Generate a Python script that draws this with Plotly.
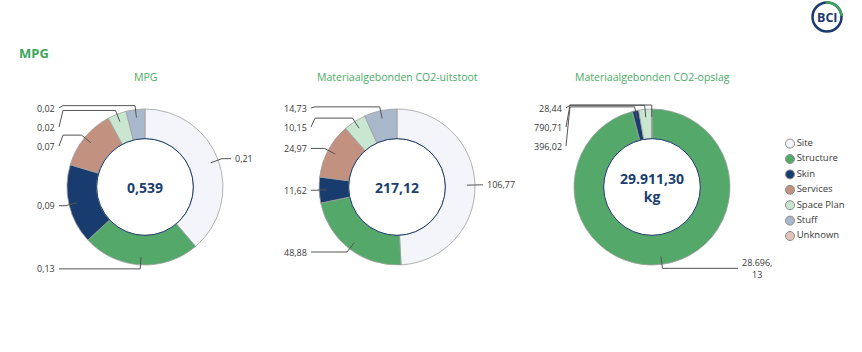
import math
import plotly.graph_objects as go

W, H = 862, 352

# ---------------- data ----------------
categories = ["Site", "Structure", "Skin", "Services", "Space Plan", "Stuff", "Unknown"]
slice_colors = ["#f3f5fa", "#53a86a", "#173c6d", "#c3917f", "#c9e6d0", "#a9b8ca", "#e2c4ba"]

mpg_values = [0.209, 0.131, 0.089, 0.068, 0.021, 0.021, 0.0]
co2_uitstoot_values = [106.77, 48.88, 11.62, 24.97, 10.15, 14.73, 0.0]
co2_opslag_values = [0.0, 28696.13, 396.02, 0.0, 790.71, 28.44, 0.0]

chart_titles = ["MPG", "Materiaalgebonden CO2-uitstoot", "Materiaalgebonden CO2-opslag"]
total_decimals = [3, 2, 2]
total_units = ["", "", "kg"]
page_title = "MPG"

# ---------------- layout constants ----------------
centers = [(145, 187), (397, 187), (652, 187)]
R = 78
HOLE = 0.62
GREEN = "#4cab66"
NAVY = "#1c3f70"
LINE_C = "#555555"
LABEL_C = "#3a3a3a"
FONT = "Open Sans"


def nl(v, d):
    s = f"{v:,.{d}f}"
    return s.replace(",", "X").replace(".", ",").replace("X", ".")


def PX(x):
    return x / W


def PY(y):
    return 1 - y / H


fig = go.Figure()
shapes = []
annotations = []

all_values = [mpg_values, co2_uitstoot_values, co2_opslag_values]

for k, vals in enumerate(all_values):
    cx, cy = centers[k]
    labs = [c for c, v in zip(categories, vals) if v > 0]
    vv = [v for v in vals if v > 0]
    cols = [col for col, v in zip(slice_colors, vals) if v > 0]
    fig.add_trace(go.Pie(
        labels=labs, values=vv, sort=False, direction="clockwise", rotation=0,
        hole=HOLE, textinfo="none", hoverinfo="skip", showlegend=False,
        marker=dict(colors=cols, line=dict(color="#a0a0a0", width=0.8)),
        domain=dict(x=[PX(cx - R), PX(cx + R)], y=[PY(cy + R), PY(cy - R)]),
    ))
    rin = R * HOLE
    shapes.append(dict(type="circle", xref="paper", yref="paper",
                       x0=PX(cx - rin), x1=PX(cx + rin), y0=PY(cy + rin), y1=PY(cy - rin),
                       line=dict(color=NAVY, width=1)))
    # center total
    total = sum(vals)
    txt = nl(total, total_decimals[k])
    if total_units[k]:
        txt += "<br>" + total_units[k]
    annotations.append(dict(x=PX(cx), y=PY(cy), xref="paper", yref="paper", text="<b>" + txt + "</b>",
                            showarrow=False, font=dict(family=FONT, size=14, color=NAVY),
                            xanchor="center", yanchor="middle"))
    # title
    annotations.append(dict(x=PX(cx), y=PY(77), xref="paper", yref="paper", text=chart_titles[k],
                            showarrow=False, font=dict(family=FONT, size=10.5, color=GREEN),
                            xanchor="center", yanchor="middle"))
    # labels with leader lines
    tot = sum(vv)
    acc = 0.0
    items = []
    for v in vv:
        th = math.radians((acc + v / 2) / tot * 360)
        acc += v
        s, c = math.sin(th), math.cos(th)
        p0 = (cx + (R - 8) * s, cy - (R - 8) * c)
        p1 = (cx + (R + 4) * s, cy - (R + 4) * c)
        side = "right" if s >= 0 else "left"
        items.append(dict(v=v, p0=p0, p1=p1, side=side, ny=p1[1]))
    for side in ("left", "right"):
        grp = sorted([it for it in items if it["side"] == side], key=lambda it: it["ny"])
        prev = None
        for it in grp:
            y = max(it["ny"], cy - R - 1)
            if prev is not None:
                y = max(y, prev + 19)
            it["ly"] = y
            prev = y
    for it in items:
        if it["side"] == "left":
            xe = cx - R - 8
            x2 = min(it["p1"][0], xe + 4)
            xt, anchor = xe - 2, "right"
        else:
            xe = cx + R + 8
            x2 = max(it["p1"][0], xe - 4)
            xt, anchor = xe + 2, "left"
        pts = [it["p0"], it["p1"], (x2, it["p1"][1]), (xe, it["ly"])]
        path = "M " + " L ".join(f"{PX(a):.5f},{PY(b):.5f}" for a, b in pts)
        shapes.append(dict(type="path", xref="paper", yref="paper", path=path,
                           line=dict(color=LINE_C, width=1)))
        t = nl(it["v"], 2)
        if len(t) > 7:
            i = t.index(",")
            t = t[:i + 1] + "<br>" + t[i + 1:]
        annotations.append(dict(x=PX(xt), y=PY(it["ly"]), xref="paper", yref="paper", text=t,
                                showarrow=False, font=dict(family=FONT, size=9, color=LABEL_C),
                                xanchor=anchor, yanchor="middle", align="center"))

# legend (drawn as a scatter of category markers)
leg_top, leg_step = 143.6, 15.4
n = len(categories)
fig.add_trace(go.Scatter(
    x=[0.5] * n, y=categories, mode="markers+text", text=categories,
    textposition="middle right", cliponaxis=False, hoverinfo="skip", showlegend=False,
    marker=dict(size=9, color=slice_colors, line=dict(color="#8c8c8c", width=1)),
    textfont=dict(family=FONT, size=9.5, color=LABEL_C),
))

# page title
annotations.append(dict(x=PX(17), y=PY(53), xref="paper", yref="paper", text="<b>" + page_title + "</b>",
                        showarrow=False, font=dict(family=FONT, size=13, color="#3aa55d"),
                        xanchor="left", yanchor="middle"))

# logo
lcx, lcy, lr = 827, 17, 14.5
shapes.append(dict(type="circle", xref="paper", yref="paper",
                   x0=PX(lcx - lr), x1=PX(lcx + lr), y0=PY(lcy + lr), y1=PY(lcy - lr),
                   line=dict(color="#1b3a6b", width=2.5)))
arc = []
for i in range(0, 31):
    a = math.radians(-5 + i * 3)
    arc.append((lcx + lr * math.sin(a), lcy - lr * math.cos(a)))
shapes.append(dict(type="path", xref="paper", yref="paper",
                   path="M " + " L ".join(f"{PX(a):.5f},{PY(b):.5f}" for a, b in arc),
                   line=dict(color="#3aa55d", width=2.5)))
annotations.append(dict(x=PX(lcx), y=PY(lcy + 0.5), xref="paper", yref="paper", text="<b>BCI</b>",
                        showarrow=False, font=dict(family=FONT, size=12.5, color="#1b3a6b"),
                        xanchor="center", yanchor="middle"))

fig.update_layout(
    width=W, height=H, margin=dict(l=0, r=0, t=0, b=0),
    paper_bgcolor="white", plot_bgcolor="white", showlegend=False,
    shapes=shapes, annotations=annotations,
    font=dict(family=FONT),
    xaxis=dict(domain=[PX(785), PX(795)], range=[0, 1], visible=False, fixedrange=True),
    yaxis=dict(domain=[PY(leg_top + (n - 0.5) * leg_step), PY(leg_top - 0.5 * leg_step)],
               type="category", categoryorder="array", categoryarray=categories,
               range=[n - 0.5, -0.5], visible=False, fixedrange=True),
)

fig.write_html("out.html")
